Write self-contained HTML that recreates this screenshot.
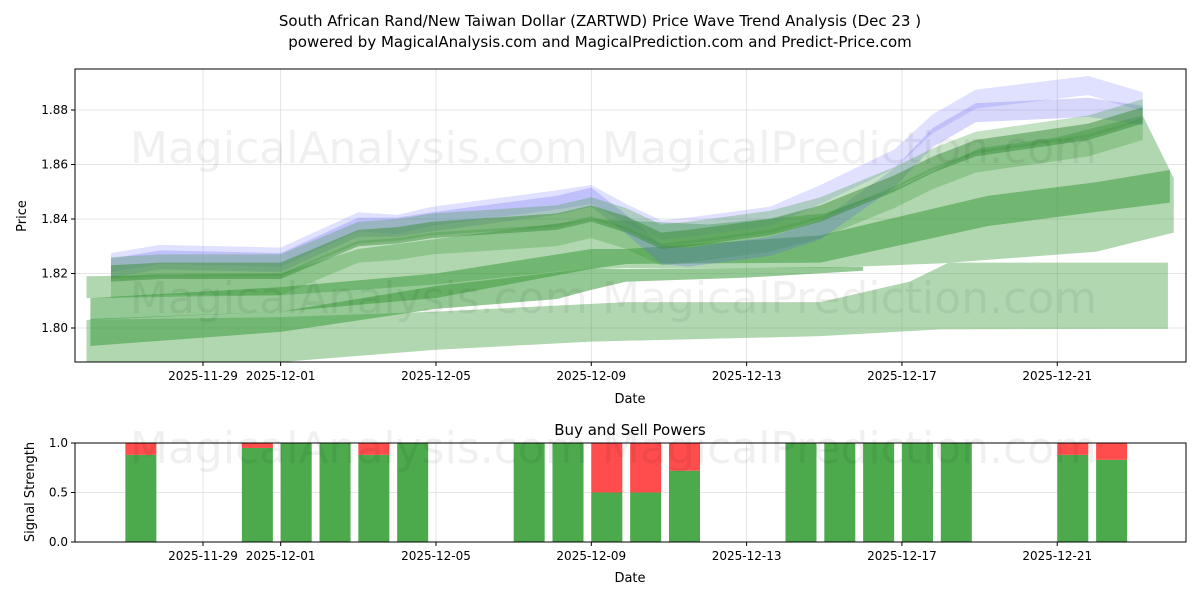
<!DOCTYPE html>
<html><head><meta charset="utf-8"><style>
body{margin:0;background:#fff;font-family:"Liberation Sans","DejaVu Sans",sans-serif}
text{font-family:"DejaVu Sans","Liberation Sans",sans-serif}
</style></head><body>
<svg id="c" width="1200" height="600" xmlns="http://www.w3.org/2000/svg">
<defs><clipPath id="clipMain"><rect x="75" y="69" width="1111" height="293"/></clipPath></defs>
<rect width="1200" height="600" fill="#fff"/>
<text x="600" y="26" text-anchor="middle" font-size="15">South African Rand/New Taiwan Dollar (ZARTWD) Price Wave Trend Analysis (Dec 23 )</text>
<text x="600" y="47" text-anchor="middle" font-size="15">powered by MagicalAnalysis.com and MagicalPrediction.com and Predict-Price.com</text>
<g id="main"></g>
<g id="sub"></g>
</svg>
<script>
// day offsets from 2025-11-27
const waveDays=[-0.37,0.9,4,6,7,7.9,11.1,12,12.9,13.8,14.5,16.6,17.9,19.8,20.8,21.9,24.8,26.2];
const waveCore=[1.820,1.821,1.821,1.833,1.834,1.836,1.839,1.842,1.838,1.832,1.833,1.837,1.842,1.853,1.860,1.866,1.872,1.878];
const waveBlue=[1.822,1.825,1.824,1.837,1.837,1.839,1.845,1.848,1.838,1.827,1.826,1.830,1.836,1.855,1.870,1.879,1.881,1.878];
const waveBlueHi=[1.824,1.827,1.826,1.839,1.838,1.841,1.847,1.849,1.842,1.836,1.837,1.841,1.849,1.862,1.875,1.884,1.889,1.883];
const bigTopDays=[-1,4,6,12,15,18,20,22,24,26.2,27];
const bigTop=[1.819,1.820,1.829,1.840,1.838,1.842,1.852,1.866,1.870,1.878,1.855];
const bigBotDays=[-1,4,8,12,17.9,21,25,27];
const bigBot=[1.811,1.812,1.816,1.822,1.822,1.8237,1.828,1.835];
const midDays=[-0.9,4,8,12,12.9,17.9,22.2,25,26.9];
const midTop=[1.811,1.815,1.820,1.829,1.829,1.834,1.8485,1.8535,1.858];
const midBot=[1.803,1.806,1.811,1.8217,1.8235,1.824,1.8374,1.8426,1.846];
const darkDays=[-0.9,4,8,11.1,12,12.9,16,19];
const darkTop=[1.8033,1.806,1.8154,1.8205,1.822,1.8217,1.822,1.8225];
const darkBot=[1.7934,1.7986,1.807,1.8106,1.814,1.817,1.8185,1.821];
const flatTopDays=[-1,4,8,12.9,17.9,20.2,21.2,26.85];
const flatTop=[1.803,1.804,1.806,1.8095,1.8095,1.817,1.824,1.824];
const flatBotDays=[-1,4,8,12,17.9,21,26.85];
const flatBot=[1.782,1.7875,1.792,1.795,1.797,1.7995,1.7997];
const yTicks=[1.80,1.82,1.84,1.86,1.88];
const xTickLabels=["2025-11-29","2025-12-01","2025-12-05","2025-12-09","2025-12-13","2025-12-17","2025-12-21"];
const xTickDays=[2,4,8,12,16,20,24];
const barDays=[0,3,4,5,6,7,10,11,12,13,14,17,18,19,20,21,24,25];
const buyVals=[0.88,0.95,1,1,0.88,1,1,1,0.5,0.5,0.72,1,1,1,1,1,0.88,0.83];
const sigTicks=[0,0.5,1.0];

const NS="http://www.w3.org/2000/svg";
function mk(p,t,a){const e=document.createElementNS(NS,t);for(const k in a)e.setAttribute(k,a[k]);p.appendChild(e);return e;}
const X=d=>203+(d-2)*38.83;
const L=75,R=1186,T=69,B=362;
const Y=v=>328-(v-1.80)/0.02*54.5;
const main=document.getElementById('main');
yTicks.forEach(v=>{const g=mk(main,'line',{x1:L,x2:R,y1:Y(v),y2:Y(v),stroke:'#ddd','stroke-width':0.8});
const t=mk(main,'text',{x:L-7,y:Y(v)+4,'text-anchor':'end','font-size':12});t.textContent=v.toFixed(2);
mk(main,'line',{x1:L-4,x2:L,y1:Y(v),y2:Y(v),stroke:'#000'});});
xTickDays.forEach((d,i)=>{const x=X(d);mk(main,'line',{x1:x,x2:x,y1:T,y2:B,stroke:'#ddd','stroke-width':0.8});mk(main,'line',{x1:x,x2:x,y1:B,y2:B+4,stroke:'#000'});
const t=mk(main,'text',{x:x,y:B+18,'text-anchor':'middle','font-size':12});t.textContent=xTickLabels[i];});
const plot=mk(main,'g',{'clip-path':'url(#clipMain)'});
function poly(td,tv,bd,bv,fill,op){const top=td.map((d,i)=>X(d)+','+Y(tv[i]));const bot=bd.map((d,i)=>X(d)+','+Y(bv[i])).reverse();
return mk(plot,'polygon',{points:top.concat(bot).join(' '),fill:fill,'fill-opacity':op});}
function band(days,vals,hw,fill,op){return poly(days,vals.map(v=>v+hw),days,vals.map(v=>v-hw),fill,op);}
let p;
p=poly(flatTopDays,flatTop,flatBotDays,flatBot,'#3d9a3d',0.4);
p=poly(bigTopDays,bigTop,bigBotDays,bigBot,'#3d9a3d',0.4);
p=poly(midDays,midTop,midDays,midBot,'#3d9a3d',0.55);
p=poly(darkDays,darkTop,darkDays,darkBot,'#3d9a3d',0.55);
p=band(waveDays,waveCore.map(v=>v-0.005),0.004,'#3d9a3d',0.3);
p=band(waveDays,waveBlueHi,0.0035,'#7070ff',0.22);
p=band(waveDays,waveBlue,0.0035,'#6060f0',0.25);
p=band(waveDays,waveCore.map(v=>v+0.002),0.004,'#3d9a3d',0.3);
p=band(waveDays,waveCore,0.003,'#3a8e3a',0.5);
const wm=(g,x,y,s)=>{const t=mk(g,'text',{x:x,y:y,'font-size':s,fill:'#000','fill-opacity':0.06});t.textContent='MagicalAnalysis.com';const t2=mk(g,'text',{x:x+472,y:y,'font-size':s,fill:'#000','fill-opacity':0.06});t2.textContent='MagicalPrediction.com';[t,t2].forEach(e=>{});};
wm(main,130,163,44);wm(main,130,313,44);
mk(main,'rect',{x:L,y:T,width:R-L,height:B-T,fill:'none',stroke:'#000'});
let t=mk(main,'text',{x:630,y:403,'text-anchor':'middle','font-size':13});t.textContent='Date';
t=mk(main,'text',{x:26,y:216,'text-anchor':'middle','font-size':13,transform:'rotate(-90 26 216)'});t.textContent='Price';

const sub=document.getElementById('sub');
const sT=443,sB=542,YS=v=>sB-v*(sB-sT);
sigTicks.forEach(v=>{mk(sub,'line',{x1:L,x2:R,y1:YS(v),y2:YS(v),stroke:'#ddd','stroke-width':0.8});mk(sub,'line',{x1:L-4,x2:L,y1:YS(v),y2:YS(v),stroke:'#000'});
const tt=mk(sub,'text',{x:L-7,y:YS(v)+4,'text-anchor':'end','font-size':12});tt.textContent=v.toFixed(1);});
xTickDays.forEach((d,i)=>{const x=X(d);mk(sub,'line',{x1:x,x2:x,y1:sT,y2:sB,stroke:'#ddd','stroke-width':0.8});mk(sub,'line',{x1:x,x2:x,y1:sB,y2:sB+4,stroke:'#000'});
const tt=mk(sub,'text',{x:x,y:sB+18,'text-anchor':'middle','font-size':12});tt.textContent=xTickLabels[i];});
barDays.forEach((d,i)=>{const x=X(d+0.4)-15.5,w=31;
const g=mk(sub,'rect',{x:x,y:YS(buyVals[i]),width:w,height:YS(0)-YS(buyVals[i]),fill:'#4caa4c'});
const r=mk(sub,'rect',{x:x,y:YS(1),width:w,height:YS(buyVals[i])-YS(1),fill:'#ff4c4c'});});
wm(sub,130,463,44);
mk(sub,'rect',{x:L,y:sT,width:R-L,height:sB-sT,fill:'none',stroke:'#000'});
t=mk(sub,'text',{x:630,y:435,'text-anchor':'middle','font-size':15});t.textContent='Buy and Sell Powers';
t=mk(sub,'text',{x:630,y:582,'text-anchor':'middle','font-size':13});t.textContent='Date';
t=mk(sub,'text',{x:34,y:492,'text-anchor':'middle','font-size':13,transform:'rotate(-90 34 492)'});t.textContent='Signal Strength';
</script>
</body></html>
